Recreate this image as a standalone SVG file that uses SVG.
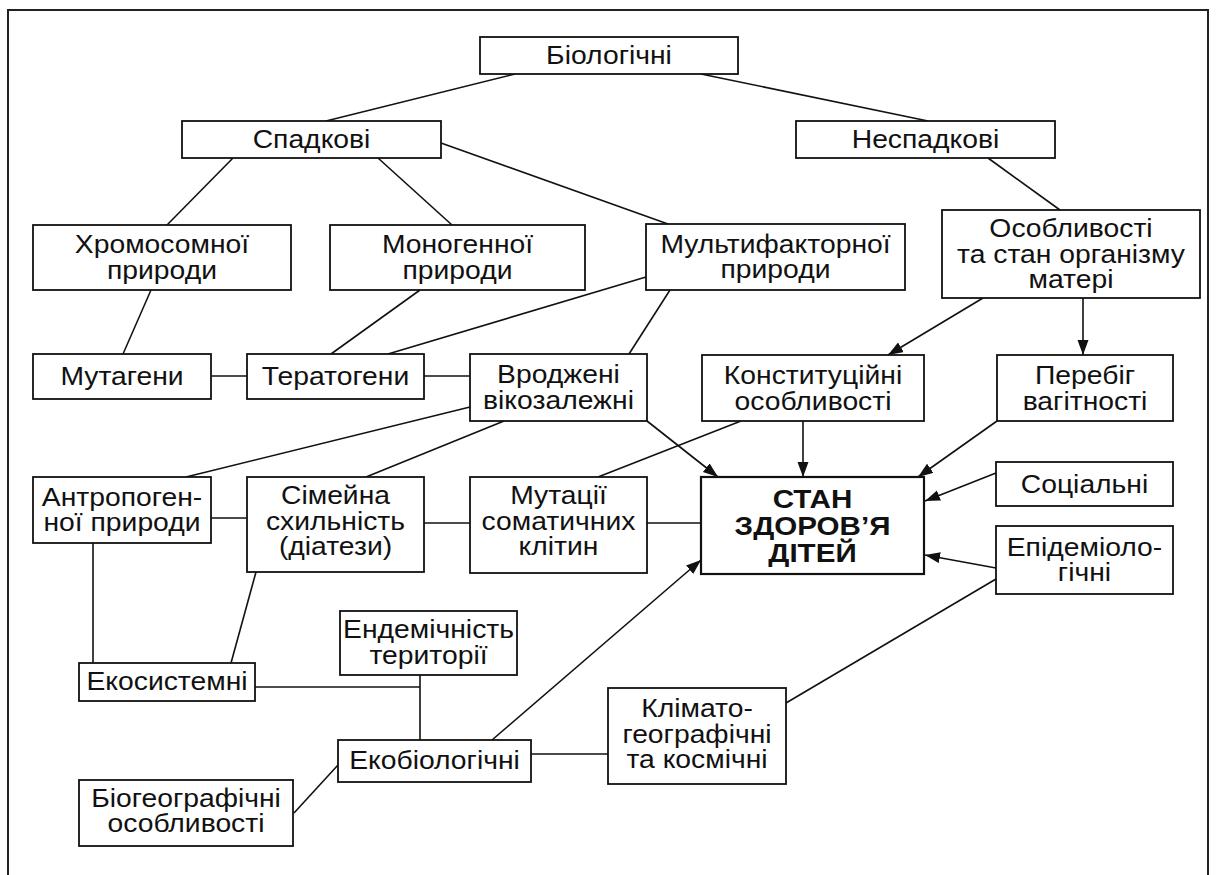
<svg xmlns="http://www.w3.org/2000/svg" width="1216" height="875" viewBox="0 0 1216 875">
<style>
.box{fill:#fff;stroke:#111;stroke-width:1.8}
.t{font-family:"Liberation Sans",Arial,sans-serif;font-size:25.5px;fill:#111;text-anchor:middle}
.b{font-weight:bold}
.ln{fill:none;stroke:#111;stroke-width:1.6}
.ar{marker-end:url(#arr)}
</style>
<defs>
<marker id="arr" markerUnits="userSpaceOnUse" markerWidth="16" markerHeight="12" refX="15" refY="5.5" orient="auto">
<path d="M0,0 L15,5.5 L0,11 z" fill="#111"/>
</marker>
</defs>
<rect x="0" y="0" width="1216" height="875" fill="#fff"/>
<path d="M8,880 V10 H1208 V880" fill="none" stroke="#222" stroke-width="2"/>

<g id="connectors">
<line class="ln" x1="515" y1="74" x2="326" y2="121"/>
<line class="ln" x1="701" y1="74" x2="928" y2="121"/>
<line class="ln" x1="233" y1="158" x2="167" y2="225"/>
<line class="ln" x1="378" y1="158" x2="452" y2="225"/>
<line class="ln" x1="441" y1="143" x2="668" y2="224"/>
<line class="ln" x1="988" y1="158" x2="1060" y2="210"/>
<line class="ln" x1="151" y1="290" x2="123" y2="354"/>
<line class="ln" x1="420" y1="290" x2="331" y2="354"/>
<line class="ln" x1="646" y1="277" x2="388" y2="354"/>
<line class="ln" x1="670" y1="290" x2="629" y2="354"/>
<line class="ln" x1="211" y1="376" x2="247" y2="376"/>
<line class="ln" x1="424" y1="376" x2="470" y2="376"/>
<line class="ln" x1="470" y1="407" x2="186" y2="477"/>
<line class="ln" x1="504" y1="421" x2="366" y2="477"/>
<line class="ln ar" x1="647" y1="421" x2="718" y2="477"/>
<line class="ln ar" x1="983" y1="298" x2="888" y2="355"/>
<line class="ln ar" x1="1083" y1="298" x2="1083" y2="355"/>
<line class="ln ar" x1="803" y1="421" x2="803" y2="477"/>
<line class="ln" x1="741" y1="421" x2="598" y2="477"/>
<line class="ln ar" x1="997" y1="421" x2="918" y2="477"/>
<line class="ln ar" x1="996" y1="473" x2="925" y2="501"/>
<line class="ln ar" x1="996" y1="568" x2="925" y2="555"/>
<line class="ln" x1="996" y1="579" x2="786" y2="703"/>
<line class="ln" x1="211" y1="518" x2="247" y2="518"/>
<line class="ln" x1="424" y1="523" x2="470" y2="523"/>
<line class="ln" x1="647" y1="523" x2="701" y2="523"/>
<line class="ln" x1="93" y1="543" x2="93" y2="663"/>
<line class="ln" x1="256" y1="572" x2="231" y2="663"/>
<line class="ln" x1="255" y1="687" x2="420" y2="687"/>
<line class="ln" x1="420" y1="675" x2="420" y2="740"/>
<line class="ln" x1="294" y1="813" x2="338" y2="765"/>
<line class="ln ar" x1="492" y1="740" x2="701" y2="560"/>
<line class="ln" x1="531" y1="754" x2="608" y2="754"/>
</g>

<g id="n-biol"><rect class="box" x="480" y="37" width="258" height="37"/>
<text class="t" transform="translate(609 0) scale(1.11 1)"><tspan x="0" y="64.5">Біологічні</tspan></text></g>
<g id="n-spadk"><rect class="box" x="182" y="121" width="259" height="37"/>
<text class="t" transform="translate(311.5 0) scale(1.11 1)"><tspan x="0" y="148.5">Спадкові</tspan></text></g>
<g id="n-nespadk"><rect class="box" x="796" y="121" width="259" height="37"/>
<text class="t" transform="translate(925.5 0) scale(1.11 1)"><tspan x="0" y="148.5">Неспадкові</tspan></text></g>
<g id="n-chrom"><rect class="box" x="33" y="225" width="258" height="65"/>
<text class="t" transform="translate(162 0) scale(1.11 1)"><tspan x="0" y="253.5">Хромосомної</tspan><tspan x="0" y="279">природи</tspan></text></g>
<g id="n-monog"><rect class="box" x="330" y="225" width="255" height="65"/>
<text class="t" transform="translate(457.5 0) scale(1.11 1)"><tspan x="0" y="253.5">Моногенної</tspan><tspan x="0" y="279">природи</tspan></text></g>
<g id="n-multi"><rect class="box" x="646" y="224" width="259" height="66"/>
<text class="t" transform="translate(775.5 0) scale(1.11 1)"><tspan x="0" y="253">Мультифакторної</tspan><tspan x="0" y="278.5">природи</tspan></text></g>
<g id="n-osobl"><rect class="box" x="942" y="210" width="258" height="88"/>
<text class="t" transform="translate(1071 0) scale(1.11 1)"><tspan x="0" y="237.5">Особливості</tspan><tspan x="0" y="263">та стан організму</tspan><tspan x="0" y="288.5">матері</tspan></text></g>
<g id="n-mutag"><rect class="box" x="33" y="354" width="178" height="45"/>
<text class="t" transform="translate(122 0) scale(1.11 1)"><tspan x="0" y="385">Мутагени</tspan></text></g>
<g id="n-terat"><rect class="box" x="247" y="354" width="177" height="45"/>
<text class="t" transform="translate(335.5 0) scale(1.11 1)"><tspan x="0" y="385">Тератогени</tspan></text></g>
<g id="n-vrodj"><rect class="box" x="470" y="354" width="177" height="67"/>
<text class="t" transform="translate(558.5 0) scale(1.11 1)"><tspan x="0" y="383.5">Вроджені</tspan><tspan x="0" y="409">вікозалежні</tspan></text></g>
<g id="n-konst"><rect class="box" x="702" y="355" width="222" height="66"/>
<text class="t" transform="translate(813 0) scale(1.11 1)"><tspan x="0" y="384.5">Конституційні</tspan><tspan x="0" y="410">особливості</tspan></text></g>
<g id="n-pereb"><rect class="box" x="997" y="355" width="176" height="66"/>
<text class="t" transform="translate(1085 0) scale(1.11 1)"><tspan x="0" y="384.5">Перебіг</tspan><tspan x="0" y="410">вагітності</tspan></text></g>
<g id="n-antrop"><rect class="box" x="33" y="477" width="178" height="66"/>
<text class="t" transform="translate(122 0) scale(1.11 1)"><tspan x="0" y="506">Антропоген-</tspan><tspan x="0" y="531.5">ної природи</tspan></text></g>
<g id="n-simeina"><rect class="box" x="247" y="477" width="177" height="95"/>
<text class="t" transform="translate(335.5 0) scale(1.11 1)"><tspan x="0" y="504.5">Сімейна</tspan><tspan x="0" y="530">схильність</tspan><tspan x="0" y="555.5">(діатези)</tspan></text></g>
<g id="n-mutac"><rect class="box" x="470" y="477" width="177" height="96"/>
<text class="t" transform="translate(558.5 0) scale(1.11 1)"><tspan x="0" y="504.5">Мутації</tspan><tspan x="0" y="530">соматичних</tspan><tspan x="0" y="555.5">клітин</tspan></text></g>
<g id="n-stan"><rect class="box" x="701" y="477" width="223" height="97" style="stroke-width:2.2"/>
<text class="t b" transform="translate(812.5 0) scale(1.16 1)"><tspan x="0" y="508">СТАН</tspan><tspan x="0" y="535">ЗДОРОВ’Я</tspan><tspan x="0" y="562">ДІТЕЙ</tspan></text></g>
<g id="n-social"><rect class="box" x="996" y="462" width="177" height="44"/>
<text class="t" transform="translate(1084.5 0) scale(1.11 1)"><tspan x="0" y="493">Соціальні</tspan></text></g>
<g id="n-epid"><rect class="box" x="996" y="526" width="177" height="68"/>
<text class="t" transform="translate(1084.5 0) scale(1.11 1)"><tspan x="0" y="556">Епідеміоло-</tspan><tspan x="0" y="581.5">гічні</tspan></text></g>
<g id="n-endem"><rect class="box" x="340" y="611" width="177" height="64"/>
<text class="t" transform="translate(428.5 0) scale(1.11 1)"><tspan x="0" y="638.5">Ендемічність</tspan><tspan x="0" y="664">території</tspan></text></g>
<g id="n-ekosys"><rect class="box" x="79" y="663" width="176" height="38"/>
<text class="t" transform="translate(167 0) scale(1.11 1)"><tspan x="0" y="690.5">Екосистемні</tspan></text></g>
<g id="n-ekobio"><rect class="box" x="338" y="740" width="193" height="42"/>
<text class="t" transform="translate(434.5 0) scale(1.11 1)"><tspan x="0" y="769">Екобіологічні</tspan></text></g>
<g id="n-klimat"><rect class="box" x="608" y="688" width="178" height="96"/>
<text class="t" transform="translate(697 0) scale(1.11 1)"><tspan x="0" y="717.5">Клімато-</tspan><tspan x="0" y="743">географічні</tspan><tspan x="0" y="768.5">та космічні</tspan></text></g>
<g id="n-biogeo"><rect class="box" x="79" y="780" width="214" height="66"/>
<text class="t" transform="translate(186 0) scale(1.11 1)"><tspan x="0" y="807">Біогеографічні</tspan><tspan x="0" y="832.5">особливості</tspan></text></g>
</svg>
